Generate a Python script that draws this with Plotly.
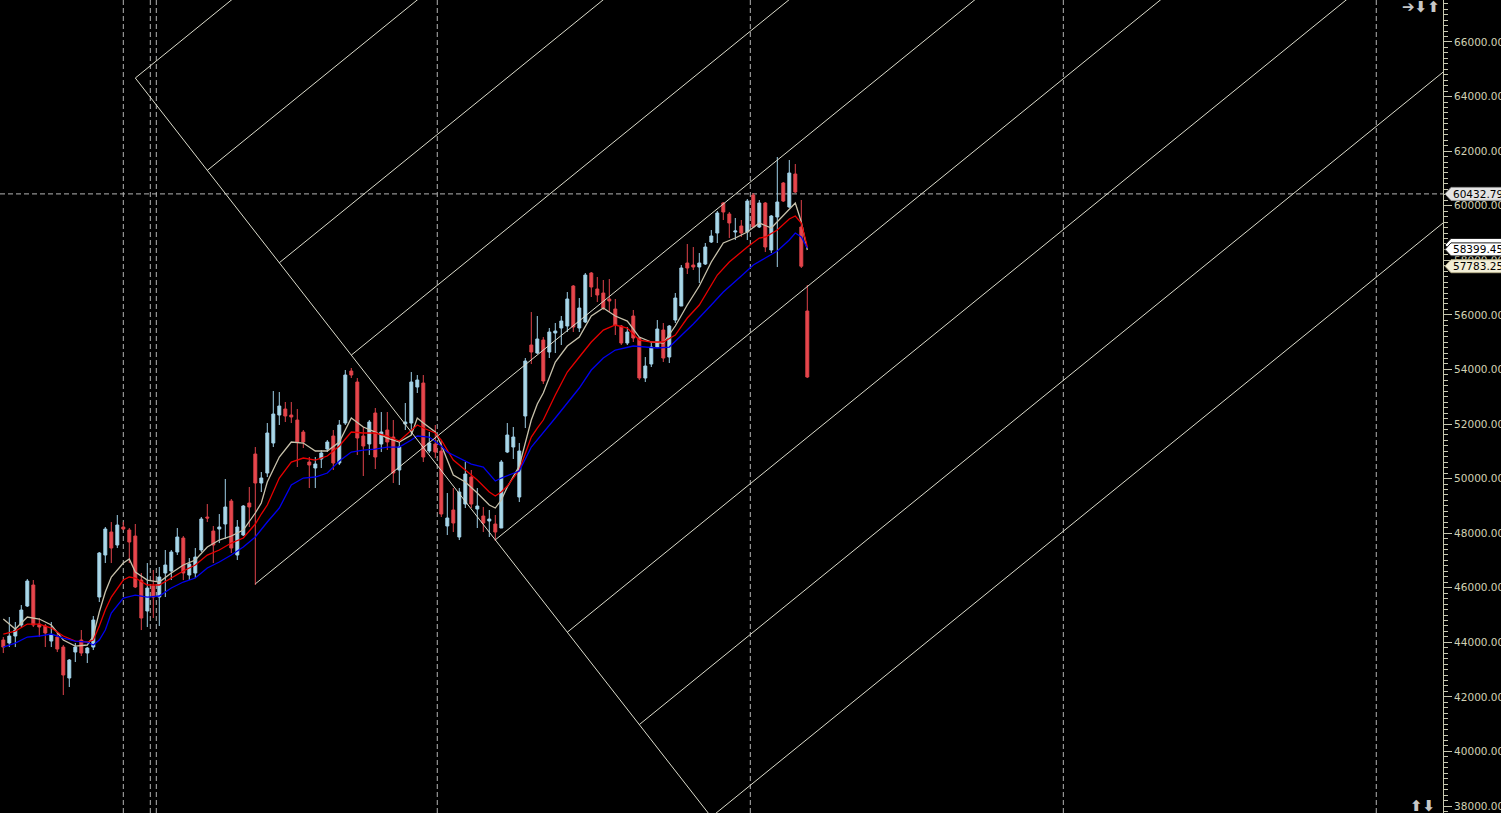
import plotly.graph_objects as go

# ---------------- data (weekly candles, index 0..134) ----------------
candle_idx = list(range(135))
opens = [44083, 43973, 44230, 44633, 45329, 46099, 44670, 44596, 44046, 44193,
         43826, 42691, 43643, 44083, 43607, 43826, 45659, 47198, 48041, 47565,
         48225, 48115, 47894, 46282, 45146, 46062, 45659, 46539, 46612, 47308,
         47821, 46465, 46539, 47382, 48591, 48078, 48151, 48335, 49177, 47198,
         47931, 49104, 50900, 49837, 50204, 51303, 52329, 52549, 52329, 52146,
         51706, 50607, 50387, 50717, 51083, 51560, 50570, 52036, 53942, 53539,
         51560, 51266, 52403, 51266, 51780, 51523, 50314, 51999, 52036, 53355,
         53502, 51010, 51266, 51010, 48261, 48848, 47858, 49067, 50057, 48884,
         48628, 48444, 48335, 48188, 50973, 51156, 49324, 52293, 54895, 54601,
         55078, 54638, 55335, 55518, 55591, 57057, 55518, 55738, 57534, 56947,
         56800, 56581, 56214, 55591, 54968, 55958, 55151, 53685, 54198, 54821,
         55445, 54455, 55811, 56324, 57900, 57827, 57753, 57863, 58670, 59000,
         60099, 59696, 59036, 59256, 59036, 60392, 59220, 60099, 58377, 59586,
         60832, 59952, 61162, 59220, 56141]
highs = [44193, 44926, 44743, 45366, 46319, 46282, 44890, 44670, 44743, 44340,
         43900, 43387, 43973, 44450, 43826, 44963, 47308, 48225, 48408, 48664,
         48408, 48188, 48335, 46539, 46905, 46649, 46759, 47382, 47382, 48188,
         47894, 47088, 47455, 48591, 49067, 48261, 48701, 49984, 49251, 48481,
         49031, 49691, 51156, 50241, 52036, 53209, 53172, 52806, 52806, 52549,
         51780, 50790, 50790, 51047, 51413, 51780, 52146, 53979, 54052, 53685,
         51890, 52146, 52586, 52439, 52439, 52146, 51340, 52769, 53905, 53795,
         53795, 51706, 51963, 51413, 49471, 49654, 49654, 50607, 50314, 49654,
         48958, 48848, 48664, 50680, 52036, 51890, 51303, 54418, 56104, 55958,
         55188, 55518, 55701, 55958, 56837, 57094, 56617, 57534, 57570, 57387,
         57277, 57314, 56581, 55628, 55555, 56178, 55188, 54455, 55005, 55811,
         55701, 55628, 56800, 57827, 58596, 58486, 58267, 58633, 59110, 59806,
         60136, 59769, 59549, 59476, 60246, 60466, 60209, 60136, 59659, 61785,
         60869, 61675, 61528, 60209, 57094]
lows = [43607, 43826, 43826, 44560, 45293, 44560, 44193, 43826, 43826, 43643,
        42068, 42361, 43277, 43497, 43240, 43717, 45476, 46905, 46905, 47455,
        48115, 46905, 45989, 44450, 44560, 44890, 44596, 45659, 46282, 47198,
        46282, 46282, 46356, 47308, 48408, 46905, 47638, 47785, 47272, 47015,
        47894, 48225, 46099, 49507, 50057, 51156, 51963, 52073, 52036, 50424,
        51120, 49654, 49654, 50387, 50973, 50314, 50497, 51963, 53685, 50863,
        50094, 50863, 50350, 50973, 51047, 49837, 49764, 51780, 51596, 53136,
        50607, 50936, 50753, 48591, 47931, 48041, 47748, 48921, 48921, 48188,
        48041, 47858, 47712, 48188, 50936, 50717, 49141, 51853, 54198, 54565,
        53466, 54418, 54601, 54895, 55371, 55371, 55371, 55701, 56654, 56471,
        56178, 56104, 55261, 54895, 54895, 55005, 53612, 53539, 54088, 54821,
        54272, 54235, 55701, 56324, 57497, 57644, 57167, 57827, 58633, 58633,
        59476, 58816, 58743, 58853, 58743, 59183, 59183, 58303, 58267, 57753,
        60136, 59916, 60466, 57717, 53685]
closes = [43826, 44230, 44450, 45183, 46246, 44633, 44560, 44340, 44267, 43753,
          42801, 43350, 43826, 43607, 43790, 44816, 47272, 48151, 47455, 48298,
          48151, 47675, 46026, 44890, 45989, 45659, 46392, 46832, 47308, 47858,
          46539, 46868, 47124, 48518, 48554, 47565, 48225, 48958, 47455, 48225,
          48994, 48958, 49837, 50020, 51670, 52366, 52659, 52293, 52256, 51340,
          51340, 50497, 50534, 50936, 51340, 50570, 51963, 53795, 53795, 51486,
          51193, 52073, 50790, 51706, 51340, 50204, 51156, 52073, 53539, 53612,
          50790, 51303, 50973, 48701, 48554, 48371, 49507, 50167, 49067, 48994,
          48371, 48518, 48041, 50607, 51596, 51523, 51010, 54308, 54638, 55115,
          53575, 55371, 55408, 55774, 56581, 55555, 56251, 57460, 57020, 56727,
          56251, 56507, 55628, 54968, 55371, 55151, 53685, 54125, 54821, 55481,
          54418, 55591, 56617, 57717, 57717, 57753, 57900, 58486, 58890, 59733,
          59769, 59366, 59073, 59000, 60172, 59220, 60099, 58486, 59623, 60136,
          60172, 61198, 60502, 57783, 53722]

ma_fast_idx = [0, 2, 4, 6, 8, 10, 12, 14, 15, 16, 17, 18, 20, 21, 22, 24, 26, 28, 30, 32,
               34, 36, 38, 40, 42, 43, 44, 46, 48, 50, 52, 54, 56, 58, 60, 62, 64, 66, 68, 69,
               70, 72, 73, 74, 75, 77, 79, 81, 82, 83, 84, 86, 87, 88, 89, 90, 92, 94, 96, 98,
               100, 102, 104, 106, 108, 110, 112, 114, 116, 118, 120, 122, 124, 126, 128, 130,
               132, 133, 134]
ma_fast = [44853, 44486, 44926, 44853, 44633, 44083, 43863, 43900, 44230, 45109, 45842, 46392,
           46905, 47052, 46575, 46282, 46209, 46539, 46832, 47015, 47491, 47748, 47895, 48114,
           48738, 49104, 49874, 50790, 51340, 51303, 51010, 51010, 51340, 52219, 51889, 51706,
           51486, 51340, 51596, 52219, 52036, 51706, 51230, 50680, 50130, 49874, 49471, 49031,
           48921, 49214, 49690, 50460, 51303, 52146, 52732, 53136, 54272, 54858, 55188, 55958,
           56251, 55958, 55774, 55188, 55005, 54968, 55591, 56361, 57057, 57937, 58633, 58816,
           59036, 59366, 59183, 59659, 60099, 59403, 58377]
ma_mid_idx = [0, 2, 4, 6, 8, 10, 12, 14, 15, 16, 17, 18, 20, 21, 22, 24, 26, 28, 30, 32,
              34, 36, 38, 40, 42, 43, 44, 46, 48, 50, 52, 54, 56, 58, 60, 62, 64, 66, 68, 69,
              70, 72, 73, 75, 77, 79, 81, 82, 83, 84, 86, 88, 89, 90, 92, 94, 96, 98, 100, 102,
              104, 106, 108, 110, 112, 114, 116, 117, 119, 121, 124, 126, 127, 129, 131, 132,
              133, 134]
ma_mid = [44303, 44413, 44669, 44669, 44523, 44230, 44046, 44010, 44083, 44596, 45182, 45659,
          46282, 46392, 46355, 46099, 46099, 46355, 46612, 46832, 47198, 47381, 47638, 47821,
          48334, 48701, 49031, 50020, 50607, 50753, 50680, 50827, 51193, 51706, 51670, 51670,
          51560, 51376, 51779, 51963, 51853, 51670, 51413, 50680, 50313, 49947, 49507, 49361,
          49507, 49727, 50313, 51523, 51853, 52146, 53062, 53905, 54455, 55005, 55444, 55628,
          55518, 55078, 55005, 55005, 55261, 55884, 56361, 56727, 57460, 57937, 58486, 58816,
          58853, 59110, 59513, 59623, 59366, 58486]
ma_slow_idx = [0, 2, 4, 6, 8, 10, 12, 14, 15, 16, 17, 18, 20, 22, 24, 26, 28, 30, 32, 34,
               36, 38, 40, 42, 44, 46, 48, 50, 52, 54, 56, 58, 60, 62, 64, 66, 68, 69, 71, 73,
               74, 76, 78, 80, 82, 83, 85, 86, 88, 89, 92, 96, 98, 100, 102, 105, 107, 109, 111,
               113, 115, 118, 120, 123, 125, 127, 129, 131, 132, 133, 134]
ma_slow = [43826, 43973, 44193, 44230, 44303, 44156, 44046, 44010, 43900, 44083, 44449, 45073,
           45622, 45732, 45659, 45696, 45989, 46209, 46355, 46722, 46942, 47198, 47491, 47858,
           48408, 48921, 49764, 50020, 50057, 50203, 50643, 50973, 51046, 51083, 51156, 51156,
           51413, 51560, 51523, 51193, 50973, 50753, 50533, 50423, 49910, 50020, 50203, 50277,
           51156, 51413, 52219, 53319, 53978, 54418, 54711, 54858, 54821, 54785, 54821, 55225,
           55664, 56361, 56837, 57424, 57827, 58083, 58340, 58743, 59000, 58853, 58450]

# period separators (candle index) and horizontal price line
separator_idx = [20, 24.5, 25.5, 72.33, 124.5, 176.67, 228.83]
hline_price = 60432.79

# Gann-style drawing: anchor, step along the diagonal, slopes (price per candle)
gann_origin_idx = 22
gann_origin_price = 64680
gann_step = 12
gann_diag_slope = -282.1
gann_ray_slope = 178.5
gann_ray_count = 9
gann_diag_end_idx = 130
gann_ray_end_idx = 262
gann_ray_back_start = {4: 42}

# price tags on the right scale (the second one sits mostly hidden behind the third)
tag_prices = [60432.79, 58560.52, 58399.45, 57783.25]
tag_texts = ["60432.79", "", "58399.45", "57783.25"]
tag_fill = ["#e4e4e4", "#ffffff", "#ffffff", "#f2eed6"]
tag_edge = ["#9a9a9a", "#202020", "#202020", "#b8b08c"]

# ---------------- figure ----------------
X_RANGE = [-0.55, 239.95]
Y_RANGE = [37744, 67539]
AX_COL = "#c8c8b0"
TXT_COL = "#d2d2b4"

fig = go.Figure()

fig.add_trace(go.Candlestick(
    x=candle_idx, open=opens, high=highs, low=lows, close=closes,
    increasing=dict(line=dict(color="#9fd0e8", width=1), fillcolor="#add8e6"),
    decreasing=dict(line=dict(color="#e0434a", width=1), fillcolor="#e8474d"),
    whiskerwidth=0, hoverinfo="skip", showlegend=False,
))

for xs, ys, col in [(ma_fast_idx, ma_fast, "#c8c2ac"),
                    (ma_mid_idx, ma_mid, "#e80000"),
                    (ma_slow_idx, ma_slow, "#0000f0")]:
    fig.add_trace(go.Scatter(x=xs, y=ys, mode="lines",
                             line=dict(color=col, width=1.3),
                             hoverinfo="skip", showlegend=False))

# Gann drawing lines
gx, gy = [], []
gx += [gann_origin_idx, gann_diag_end_idx, None]
gy += [gann_origin_price,
       gann_origin_price + gann_diag_slope * (gann_diag_end_idx - gann_origin_idx), None]
for k in range(gann_ray_count):
    ai = gann_origin_idx + gann_step * k
    ap = gann_origin_price + gann_diag_slope * gann_step * k
    s = gann_ray_back_start.get(k, ai)
    gx += [s, gann_ray_end_idx, None]
    gy += [ap + gann_ray_slope * (s - ai), ap + gann_ray_slope * (gann_ray_end_idx - ai), None]
fig.add_trace(go.Scatter(x=gx, y=gy, mode="lines",
                         line=dict(color="#dcdccc", width=1),
                         hoverinfo="skip", showlegend=False, connectgaps=False))

shapes = []
for sx in separator_idx:
    shapes.append(dict(type="line", xref="x", yref="paper", x0=sx, x1=sx, y0=0, y1=1,
                       line=dict(color="#b4b4b4", width=1, dash="5px,3px"), layer="below"))
shapes.append(dict(type="line", xref="paper", yref="y", x0=0, x1=1, y0=hline_price, y1=hline_price,
                   line=dict(color="#b4b4b4", width=1, dash="5px,3px"), layer="below"))

annotations = []
for p, t, fc, ec in zip(tag_prices, tag_texts, tag_fill, tag_edge):
    shapes.append(dict(type="path", xref="paper", yref="y", xsizemode="pixel", ysizemode="pixel",
                       xanchor=1, yanchor=p, path="M2,0 L8,6.5 L70,6.5 L70,-6.5 L8,-6.5 Z",
                       fillcolor=fc, line=dict(color=ec, width=1), layer="above"))
    if t:
        annotations.append(dict(xref="paper", yref="y", x=1, y=p, xanchor="left", yanchor="middle",
                                xshift=8, text=t, showarrow=False,
                                font=dict(family="DejaVu Sans", size=10.5, color="#000000")))

annotations.append(dict(xref="paper", yref="paper", x=1, y=1, xanchor="right", yanchor="top",
                        xshift=-1, yshift=4, text="<b>➔⬇⬆</b>", showarrow=False,
                        font=dict(family="DejaVu Sans", size=15, color="#c8c8c8")))
annotations.append(dict(xref="paper", yref="paper", x=1, y=0, xanchor="right", yanchor="bottom",
                        xshift=-6, yshift=-4, text="<b>⬆⬇</b>", showarrow=False,
                        font=dict(family="DejaVu Sans", size=15, color="#c8c8c8")))

fig.update_layout(
    template="none",
    width=1501, height=813,
    margin=dict(l=0, r=58, t=0, b=0, autoexpand=False),
    paper_bgcolor="#000000", plot_bgcolor="#000000",
    showlegend=False,
    hovermode=False,
    xaxis=dict(range=X_RANGE, visible=False, showgrid=False, zeroline=False,
               rangeslider=dict(visible=False), automargin=False),
    yaxis=dict(range=Y_RANGE, side="right", showgrid=False, zeroline=False,
               showline=True, linecolor=AX_COL, linewidth=1,
               ticks="outside", ticklen=8, tickwidth=1, tickcolor=AX_COL,
               tick0=0, dtick=2000, tickformat=".2f",
               tickfont=dict(family="DejaVu Sans", size=10.5, color=TXT_COL),
               minor=dict(ticks="outside", ticklen=4, tickwidth=1, tickcolor=AX_COL, dtick=200, tick0=0),
               automargin=False),
    shapes=shapes,
    annotations=annotations,
)

fig.write_html(
    "out.html",
    config={"displayModeBar": False},
    post_script="document.body.style.margin='0px';document.body.style.overflow='hidden';",
)
